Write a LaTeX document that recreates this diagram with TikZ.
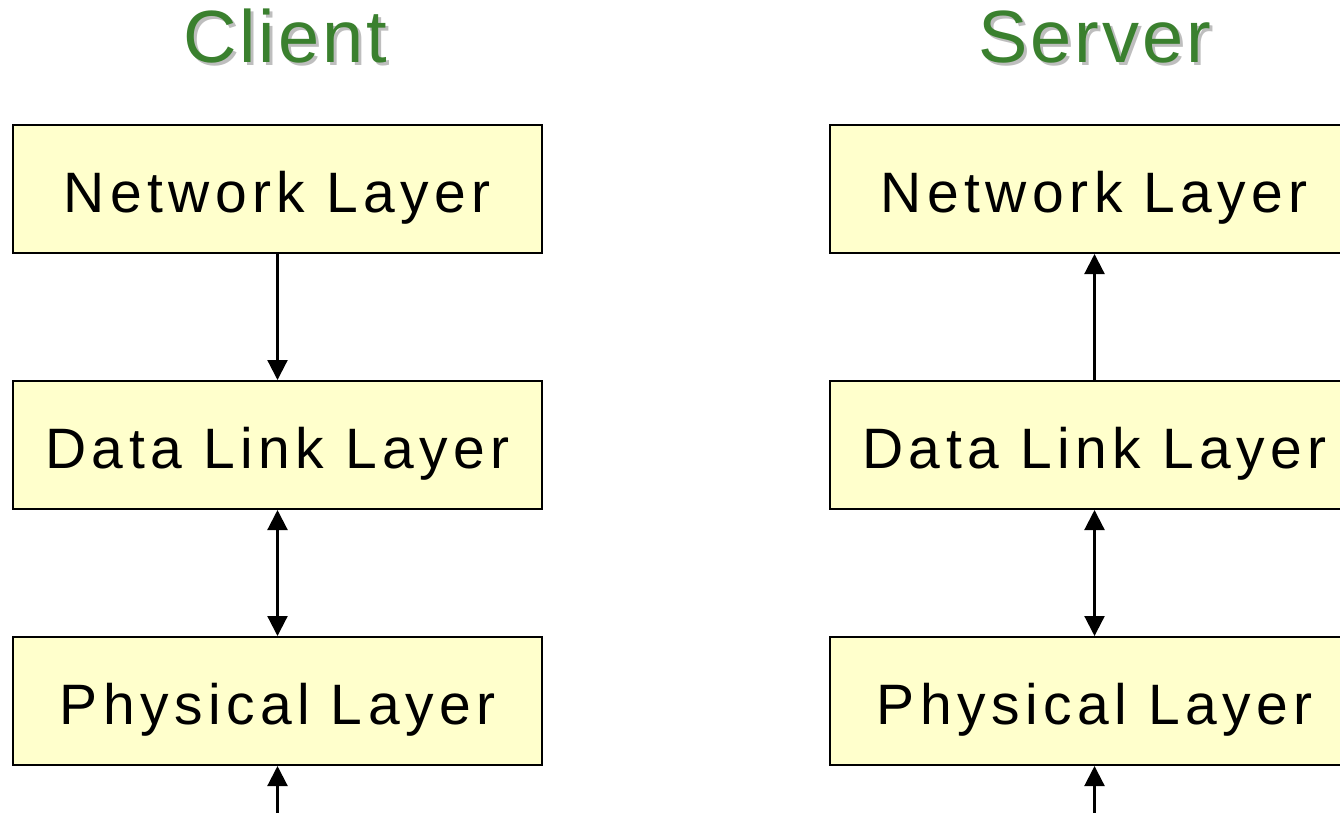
\documentclass[tikz,border=0pt]{standalone}
\usepackage{fontspec}
\setmainfont{Liberation Sans}
\usetikzlibrary{arrows.meta,positioning}
\definecolor{titlegreen}{RGB}{58,128,46}
\definecolor{titleshadow}{RGB}{190,190,190}
\definecolor{layerfill}{RGB}{255,255,204}
% green heading with a soft grey drop shadow behind it
\newcommand{\shadowed}[1]{%
  \makebox[0pt][l]{\hspace{3pt}\raisebox{-3pt}[0pt][0pt]{\color{titleshadow}#1}}%
  {\color{titlegreen}#1}}
\tikzset{
  layer/.style={draw=black, line width=2pt, fill=layerfill,
    minimum width=529pt, minimum height=128pt, inner sep=0pt,
    text height=46pt, text depth=0pt,
    font=\fontsize{57}{62}\selectfont\addfontfeature{LetterSpace=9.5}},
  title/.style={inner sep=0pt, anchor=base,
    font=\fontsize{74}{80}\selectfont\addfontfeature{LetterSpace=4}},
  link/.style={line width=2.2pt, -{Triangle[width=20pt,length=20pt]}},
  duplex/.style={line width=2.2pt, {Triangle[width=20pt,length=20pt]}-{Triangle[width=20pt,length=20pt]}},
}
\begin{document}
\begin{tikzpicture}[x=1pt,y=-1pt]
  \useasboundingbox (0,0) rectangle (1340,812);
  \clip (0,0) rectangle (1340,812);
  % headings
  \node[title] (client) at (285,62) {\shadowed{Client}};
  \node[title] (server) at (1095,62) {\shadowed{Server}};
  % client stack
  \node[layer] (cnet) at (277.5,189) {Network Layer};
  \node[layer] (cdl)  at (277.5,445) {Data Link Layer};
  \node[layer] (cphy) at (277.5,701) {Physical Layer};
  % server stack
  \node[layer] (snet) at (1094.5,189) {Network Layer};
  \node[layer] (sdl)  at (1094.5,445) {Data Link Layer};
  \node[layer] (sphy) at (1094.5,701) {Physical Layer};
  % feeds from the medium below
  \coordinate (cin) at (277.5,830);
  \coordinate (sin) at (1094.5,830);
  % connectors
  \draw[link] (cnet.south) -- (cdl.north);
  \draw[duplex] (cdl.south) -- (cphy.north);
  \draw[link] (cin) -- (cphy.south);
  \draw[link] (sdl.north) -- (snet.south);
  \draw[duplex] (sdl.south) -- (sphy.north);
  \draw[link] (sin) -- (sphy.south);
\end{tikzpicture}
\end{document}
